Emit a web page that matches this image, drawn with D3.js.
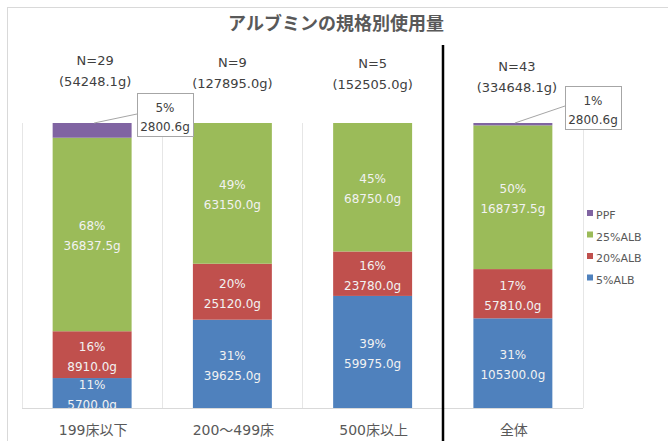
<!DOCTYPE html>
<html>
<head>
<meta charset="utf-8">
<script src="https://cdn.jsdelivr.net/npm/d3@7"></script>
<style>
  body { margin: 0; background: #fff; }
  svg text { font-family: "DejaVu Sans", "Noto Sans CJK JP", sans-serif; }
</style>
</head>
<body>
<div id="chart"></div>
<script>
// chart data
const categories = ['199床以下', '200～499床', '500床以上', '全体'];
const counts = [29, 9, 5, 43];
const keys = ['5%ALB', '20%ALB', '25%ALB', 'PPF']; // bottom to top
const alb5 = [5700.0, 39625.0, 59975.0, 105300.0];
const alb20 = [8910.0, 25120.0, 23780.0, 57810.0];
const alb25 = [36837.5, 63150.0, 68750.0, 168737.5];
const ppf = [2800.6, 0, 0, 2800.6];

const colors = { '5%ALB': '#4f81bd', '20%ALB': '#c0504d', '25%ALB': '#9bbb59', 'PPF': '#8064a2' };

const W = 668, H = 441;
const svg = d3.select('#chart').append('svg')
    .attr('width', W)
    .attr('height', H);

// chart frame
svg.append('rect')
    .attr('x', 7.5).attr('y', 7.5)
    .attr('width', W).attr('height', H)
    .attr('fill', '#fff')
    .attr('stroke', '#d9d9d9');

const rows = categories.map((c, i) => ({
    cat: c, n: counts[i],
    '5%ALB': alb5[i], '20%ALB': alb20[i], '25%ALB': alb25[i], 'PPF': ppf[i]
}));
rows.forEach(r => { r.total = d3.sum(keys, k => r[k]); });

const series = d3.stack().keys(keys).offset(d3.stackOffsetExpand)(rows);

const x = d3.scaleBand()
    .domain(categories)
    .range([22, 583])
    .paddingInner(0.437)
    .paddingOuter(0.2185);
const y = d3.scaleLinear().domain([0, 1]).range([408, 123]);

// vertical gridlines between categories
const bounds = categories.map(c => x(c) - x.step() * x.paddingInner() / 2 - 0.25);
bounds[0] = 22;
bounds.push(583);
svg.append('g').selectAll('line')
    .data(bounds)
    .join('line')
    .attr('x1', d => Math.round(d) + 0.5).attr('x2', d => Math.round(d) + 0.5)
    .attr('y1', y(1)).attr('y2', y(0))
    .attr('stroke', '#e6e6e6');

// bars
svg.append('clipPath').attr('id', 'plot')
    .append('rect').attr('x', 22).attr('y', 0).attr('width', 561).attr('height', y(0));

const layer = svg.append('g').selectAll('g')
    .data(series)
    .join('g')
    .attr('fill', d => colors[d.key]);

layer.selectAll('rect')
    .data(d => d)
    .join('rect')
    .attr('x', d => x(d.data.cat))
    .attr('width', x.bandwidth())
    .attr('y', d => y(d[1]))
    .attr('height', d => y(d[0]) - y(d[1]));

// x axis line
svg.append('line')
    .attr('x1', 22).attr('x2', 583)
    .attr('y1', y(0) + 0.5).attr('y2', y(0) + 0.5)
    .attr('stroke', '#d9d9d9');

// segment labels (PPF gets callouts)
const labels = svg.append('g').attr('clip-path', 'url(#plot)');
series.filter(s => s.key !== 'PPF').forEach(s => {
    s.forEach(d => {
        const v = d.data[s.key];
        if (!v) return;
        const cx = x(d.data.cat) + x.bandwidth() / 2;
        const cy = (y(d[0]) + y(d[1])) / 2;
        const t = labels.append('text')
            .attr('x', cx)
            .attr('text-anchor', 'middle')
            .attr('font-size', 12)
            .attr('fill', '#f2f2f2');
        t.append('tspan').attr('x', cx).attr('y', cy - 4).text(Math.round(v / d.data.total * 100) + '%');
        t.append('tspan').attr('x', cx).attr('y', cy + 16).text(v.toFixed(1) + 'g');
    });
});

// PPF callouts
const calloutPos = { '199床以下': { bx: 137, by: 93, lx: 114 }, '全体': { bx: 565, by: 86, lx: 106 } };
const ppfSeries = series.find(s => s.key === 'PPF');
ppfSeries.forEach(d => {
    const v = d.data.PPF;
    const p = calloutPos[d.data.cat];
    if (!v || !p) return;
    const cx = x(d.data.cat) + x.bandwidth() / 2;
    svg.append('line')
        .attr('x1', cx + 2).attr('y1', y(d[1]))
        .attr('x2', p.bx).attr('y2', p.lx)
        .attr('stroke', '#a6a6a6');
    svg.append('rect')
        .attr('x', p.bx + 0.5).attr('y', p.by + 0.5)
        .attr('width', 56).attr('height', 43)
        .attr('fill', '#fff')
        .attr('stroke', '#a6a6a6');
    const tx = p.bx + 28;
    const t = svg.append('text')
        .attr('text-anchor', 'middle')
        .attr('font-size', 12)
        .attr('fill', '#404040');
    t.append('tspan').attr('x', tx).attr('y', p.by + 19).text(Math.round(v / d.data.total * 100) + '%');
    t.append('tspan').attr('x', tx).attr('y', p.by + 38).text(v.toFixed(1) + 'g');
});

// N and total labels above bars (y = centre of first line)
const nPos = [{ dx: 3, y: 60 }, { dx: 0, y: 61.5 }, { dx: 0, y: 62.5 }, { dx: 4, y: 66 }];
rows.forEach((r, i) => {
    const cx = x(r.cat) + x.bandwidth() / 2 + nPos[i].dx;
    const t = svg.append('text')
        .attr('text-anchor', 'middle')
        .attr('font-size', 13)
        .attr('fill', '#404040');
    t.append('tspan').attr('x', cx).attr('y', nPos[i].y + 5).text('N=' + r.n);
    t.append('tspan').attr('x', cx).attr('y', nPos[i].y + 26).text('(' + r.total.toFixed(1) + 'g)');
});

// category labels
svg.append('g').selectAll('text')
    .data(categories)
    .join('text')
    .attr('x', d => x(d) + x.bandwidth() / 2 + 1)
    .attr('y', 435)
    .attr('text-anchor', 'middle')
    .attr('font-size', 14)
    .attr('fill', '#595959')
    .text(d => d);

// separator between groups and total
svg.append('line')
    .attr('x1', 443).attr('x2', 443)
    .attr('y1', 45).attr('y2', H)
    .attr('stroke', '#000')
    .attr('stroke-width', 2.5);

// title
svg.append('text')
    .attr('x', 336).attr('y', 30)
    .attr('text-anchor', 'middle')
    .attr('font-size', 18)
    .attr('font-weight', 'bold')
    .attr('fill', '#595959')
    .text('アルブミンの規格別使用量');

// legend (top to bottom: PPF first)
const legend = svg.append('g').selectAll('g')
    .data(keys.slice().reverse())
    .join('g')
    .attr('transform', (d, i) => `translate(587, ${215 + i * 21.5})`);
legend.append('rect')
    .attr('y', -5).attr('width', 6).attr('height', 6)
    .attr('fill', d => colors[d]);
legend.append('text')
    .attr('x', 9).attr('y', 4)
    .attr('font-size', 11)
    .attr('fill', '#595959')
    .text(d => d);
</script>
</body>
</html>
